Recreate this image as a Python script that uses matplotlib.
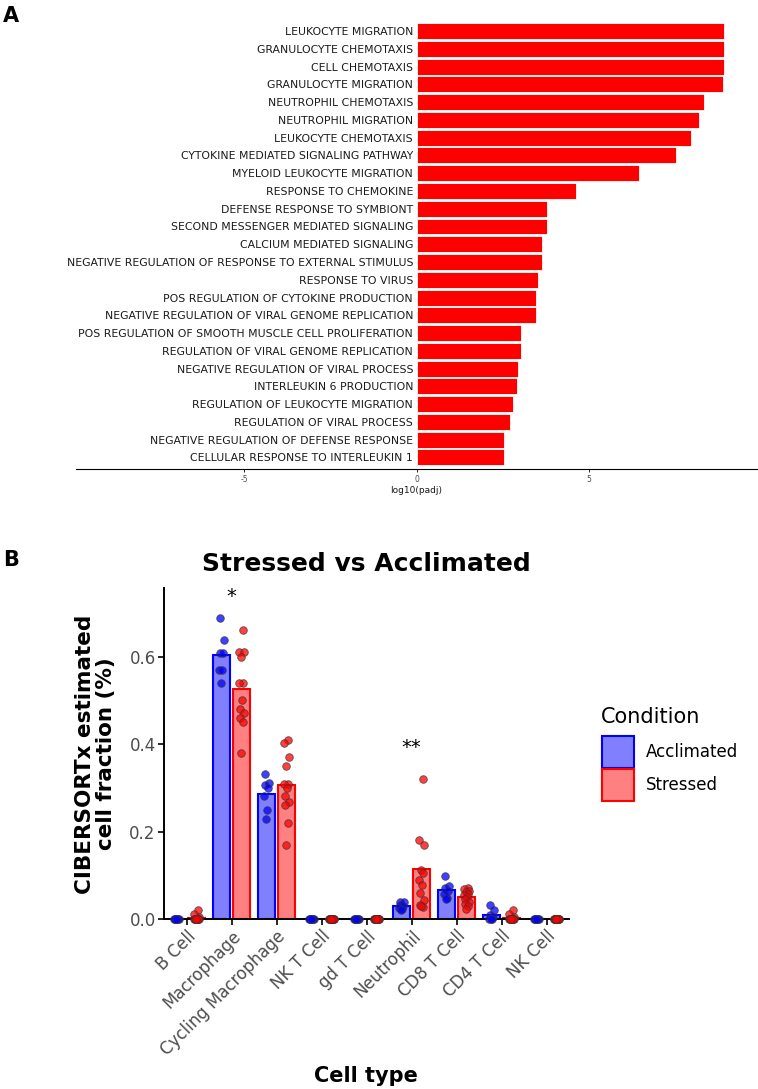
import numpy as np
import matplotlib
matplotlib.use('Agg')
import matplotlib.pyplot as plt
from matplotlib.patches import Rectangle

plt.rcParams['axes.unicode_minus'] = False

# panel A: enriched GO terms
terms = ['LEUKOCYTE MIGRATION', 'GRANULOCYTE CHEMOTAXIS', 'CELL CHEMOTAXIS',
         'GRANULOCYTE MIGRATION', 'NEUTROPHIL CHEMOTAXIS', 'NEUTROPHIL MIGRATION',
         'LEUKOCYTE CHEMOTAXIS', 'CYTOKINE MEDIATED SIGNALING PATHWAY',
         'MYELOID LEUKOCYTE MIGRATION', 'RESPONSE TO CHEMOKINE',
         'DEFENSE RESPONSE TO SYMBIONT', 'SECOND MESSENGER MEDIATED SIGNALING',
         'CALCIUM MEDIATED SIGNALING',
         'NEGATIVE REGULATION OF RESPONSE TO EXTERNAL STIMULUS',
         'RESPONSE TO VIRUS', 'POS REGULATION OF CYTOKINE PRODUCTION',
         'NEGATIVE REGULATION OF VIRAL GENOME REPLICATION',
         'POS REGULATION OF SMOOTH MUSCLE CELL PROLIFERATION',
         'REGULATION OF VIRAL GENOME REPLICATION',
         'NEGATIVE REGULATION OF VIRAL PROCESS', 'INTERLEUKIN 6 PRODUCTION',
         'REGULATION OF LEUKOCYTE MIGRATION', 'REGULATION OF VIRAL PROCESS',
         'NEGATIVE REGULATION OF DEFENSE RESPONSE',
         'CELLULAR RESPONSE TO INTERLEUKIN 1']
log_padj = [8.91, 8.91, 8.91, 8.89, 8.34, 8.19, 7.95, 7.51, 6.44, 4.63,
            3.77, 3.77, 3.65, 3.65, 3.51, 3.46, 3.46, 3.02, 3.02, 2.94,
            2.92, 2.79, 2.70, 2.53, 2.53]

# panel B: CIBERSORTx fractions
cell_types = ['B Cell', 'Macrophage', 'Cycling Macrophage', 'NK T Cell', 'gd T Cell',
              'Neutrophil', 'CD8 T Cell', 'CD4 T Cell', 'NK Cell']
conditions = ['Acclimated', 'Stressed']
mean_accl = [0.0, 0.605, 0.287, 0.0, 0.0, 0.030, 0.0666, 0.009, 0.0]
mean_str = [0.003, 0.527, 0.306, 0.0, 0.0, 0.1155, 0.050, 0.003, 0.0]

zeros7 = [0, 0, 0, 0, 0, 0, 0]
zeros12 = [0, 0, 0, 0, 0, 0, 0, 0, 0, 0, 0, 0]
pts_accl = [
    zeros7,
    [0.69, 0.64, 0.61, 0.61, 0.57, 0.57, 0.54],
    [0.331, 0.312, 0.308, 0.300, 0.281, 0.249, 0.230],
    zeros7,
    zeros7,
    [0.040, 0.038, 0.033, 0.030, 0.025, 0.022, 0.020],
    [0.099, 0.075, 0.070, 0.065, 0.057, 0.048, 0.045],
    [0.032, 0.021, 0.010, 0.005, 0, 0, 0],
    zeros7,
]
pts_str = [
    [0.021, 0.011, 0.005, 0, 0, 0, 0, 0, 0, 0, 0, 0],
    [0.661, 0.611, 0.611, 0.601, 0.540, 0.540, 0.501, 0.482, 0.471, 0.461, 0.451, 0.380],
    [0.411, 0.402, 0.371, 0.351, 0.310, 0.310, 0.300, 0.281, 0.269, 0.260, 0.220, 0.170],
    zeros12,
    zeros12,
    [0.321, 0.181, 0.170, 0.1125, 0.105, 0.090, 0.078, 0.059, 0.044, 0.032, 0.028, 0.030],
    [0.070, 0.068, 0.065, 0.062, 0.058, 0.055, 0.050, 0.045, 0.040, 0.035, 0.030, 0.022],
    [0.021, 0.011, 0.005, 0, 0, 0, 0, 0, 0, 0, 0, 0],
    zeros12,
]
sig_idx = [1, 5]
sig_text = ['*', '**']
sig_y = [0.727, 0.379]

# fixed horizontal jitter for the dots
jit_a = [-0.02, 0.05, -0.03, 0.04, -0.05, 0.02, -0.01]
jit_s = [0.03, -0.05, 0.06, -0.02, 0.04, -0.06, 0.01, -0.03, 0.05, -0.04, 0.02, -0.01]

W, H = 758, 1089
fig = plt.figure(figsize=(W / 100, H / 100), dpi=100)

def fx(px):
    return px / W

def fy(py):
    return 1 - py / H

# ---- panel A
ax1 = fig.add_axes([fx(76), fy(469), (757 - 76) / W, (469 - 20) / H])
yy = np.arange(len(terms))
ax1.barh(yy, log_padj, height=0.9, color='red', edgecolor='white', linewidth=0.6)
ax1.set_ylim(24.659, -0.631)
ax1.set_xlim(-9.87, 9.87)
for s in ['top', 'right']:
    ax1.spines[s].set_visible(False)
ax1.spines['left'].set_position(('data', 0))
ax1.spines['left'].set_visible(False)
ax1.spines['bottom'].set_linewidth(0.8)
ax1.set_yticks(yy)
ax1.set_yticklabels(terms, fontsize=7.8, color='#1a1a1a')
ax1.tick_params(axis='y', length=0, pad=2.5)
ax1.set_xticks([-5, 0, 5])
ax1.tick_params(axis='x', labelsize=5.5, labelcolor='#4D4D4D', length=2.5, width=0.6, pad=1.5)
ax1.set_xlabel('log10(padj)', fontsize=6.5, labelpad=2, color='#1a1a1a')

# ---- panel B
ax2 = fig.add_axes([fx(164), fy(919), (569 - 164) / W, (919 - 588) / H])
x = np.arange(len(cell_types))
ax2.bar(x - 0.225, mean_accl, width=0.38, color='#8080FF', edgecolor='blue', linewidth=1.5, zorder=2)
ax2.bar(x + 0.225, mean_str, width=0.38, color='#FF8080', edgecolor='red', linewidth=1.5, zorder=2)
for i in range(len(cell_types)):
    va = pts_accl[i]
    vs = pts_str[i]
    ax2.scatter(i - 0.225 + np.array(jit_a[:len(va)]), va, s=30, c='blue', alpha=0.75,
                edgecolors='#333333', linewidths=0.6, zorder=3, clip_on=False)
    ax2.scatter(i + 0.225 + np.array(jit_s[:len(vs)]), vs, s=30, c='red', alpha=0.75,
                edgecolors='#333333', linewidths=0.6, zorder=3, clip_on=False)
for i, t, yv in zip(sig_idx, sig_text, sig_y):
    ax2.text(i, yv, t, ha='center', va='baseline', fontsize=14, clip_on=False)

ax2.set_xlim(-0.5, 8.5)
ax2.set_ylim(0, 0.758)
for s in ['top', 'right']:
    ax2.spines[s].set_visible(False)
for s in ['left', 'bottom']:
    ax2.spines[s].set_linewidth(1.4)
ax2.set_yticks([0, 0.2, 0.4, 0.6])
ax2.set_yticklabels(['0.0', '0.2', '0.4', '0.6'])
ax2.set_xticks(x)
ax2.set_xticklabels(cell_types, rotation=45, ha='right', rotation_mode='anchor')
ax2.tick_params(length=4, width=1.2, color='black', labelcolor='#4D4D4D', labelsize=12, pad=2)
ax2.set_title('Stressed vs Acclimated', fontsize=18, fontweight='bold', pad=12)

fig.text(fx(116), fy(754), 'CIBERSORTx estimated\ncell fraction (%)', rotation=90,
         ha='right', va='center', multialignment='center', fontsize=15.5,
         fontweight='bold', linespacing=1.05)
fig.text(fx(366), fy(1081.7), 'Cell type', ha='center', va='baseline',
         fontsize=15, fontweight='bold')

# legend drawn by hand so the keys sit flush like ggplot's
fig.text(fx(601), fy(722.7), 'Condition', fontsize=15, va='baseline')
key_fill = ['#8080FF', '#FF8080']
key_edge = ['blue', 'red']
key_top = [736, 769]
for lab, fc, ec, top in zip(conditions, key_fill, key_edge, key_top):
    fig.add_artist(Rectangle((fx(602), fy(top + 32)), 32 / W, 32 / H, transform=fig.transFigure,
                             facecolor=fc, edgecolor=ec, linewidth=1.5))
    fig.text(fx(645.5), fy(top + 21.3), lab, fontsize=12, va='baseline')

fig.text(fx(3), fy(22), 'A', fontsize=15, fontweight='bold', va='baseline')
fig.text(fx(3), fy(566), 'B', fontsize=15, fontweight='bold', va='baseline')

fig.savefig('out.png', dpi=100)
